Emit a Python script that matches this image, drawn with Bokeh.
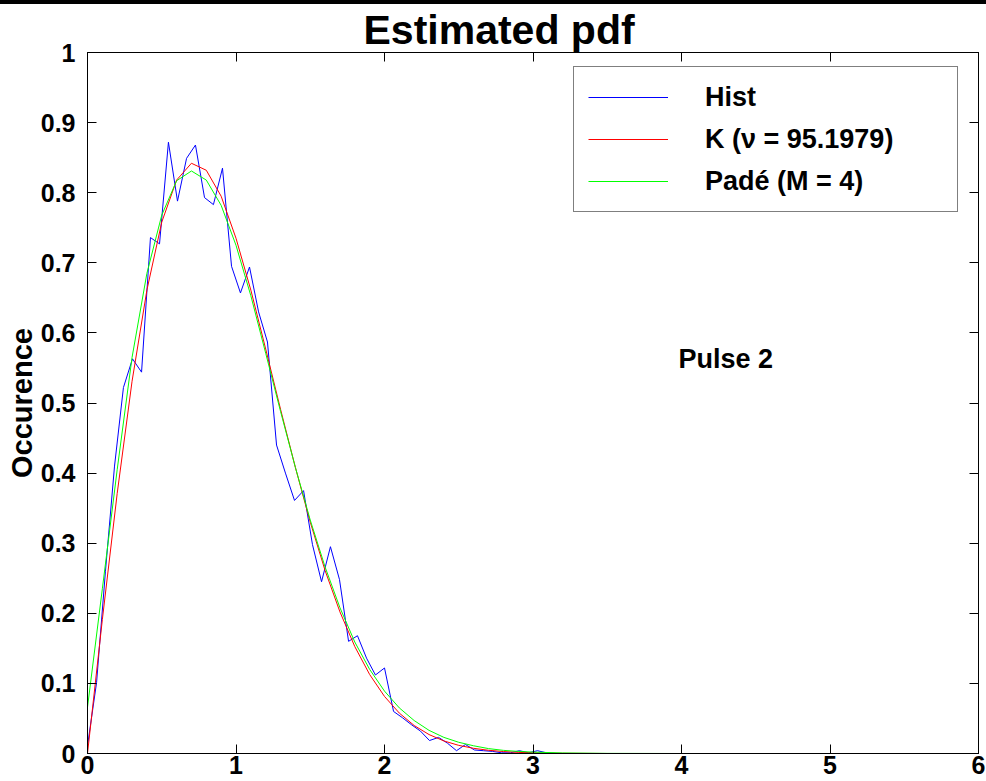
from bokeh.plotting import figure
from bokeh.models import LinearAxis, FixedTicker, Legend, LegendItem, Label, Range1d, Div
from bokeh.layouts import column
from bokeh.embed import file_html
from bokeh.resources import INLINE

# ---------------- data ----------------
hist_x = [0.000, 0.061, 0.121, 0.182, 0.242, 0.303, 0.364, 0.424, 0.485, 0.545,
          0.606, 0.667, 0.727, 0.788, 0.848, 0.909, 0.970, 1.030, 1.091, 1.152,
          1.212, 1.273, 1.333, 1.394, 1.455, 1.515, 1.576, 1.636, 1.697, 1.758,
          1.818, 1.879, 1.939, 2.000, 2.061, 2.121, 2.182, 2.242, 2.303, 2.364,
          2.424, 2.485, 2.545, 2.606, 2.667, 2.727, 2.788, 2.848, 2.909, 2.970,
          3.030, 3.091, 3.152]
hist_y = [0.011, 0.101, 0.260, 0.410, 0.522, 0.563, 0.544, 0.736, 0.727, 0.872,
          0.788, 0.849, 0.868, 0.793, 0.783, 0.835, 0.695, 0.657, 0.694, 0.630,
          0.587, 0.440, 0.400, 0.361, 0.375, 0.298, 0.245, 0.295, 0.248, 0.160,
          0.168, 0.136, 0.112, 0.122, 0.060, 0.051, 0.041, 0.032, 0.0185, 0.023,
          0.0147, 0.004, 0.0128, 0.005, 0.004, 0.003, 0.001, 0.001, 0.004, 0.001,
          0.004, 0.001, 0.000]

fit_x = [0.0, 0.1, 0.2, 0.3, 0.4, 0.5, 0.6, 0.7, 0.8, 0.9,
         1.0, 1.1, 1.2, 1.3, 1.4, 1.5, 1.6, 1.7, 1.8, 1.9,
         2.0, 2.1, 2.2, 2.3, 2.4, 2.5, 2.6, 2.7, 2.8, 2.9,
         3.0, 3.2, 3.5, 4.0, 5.0, 6.0]
k_y = [0.000, 0.191, 0.371, 0.531, 0.661, 0.758, 0.818, 0.842, 0.832, 0.795,
       0.735, 0.661, 0.577, 0.491, 0.408, 0.330, 0.261, 0.202, 0.1525, 0.1127,
       0.0814, 0.0576, 0.0399, 0.0270, 0.0179, 0.0116, 0.0074, 0.0046, 0.0028, 0.0016,
       0.0009, 0.0003, 0.0000, 0.0, 0.0, 0.0]
pade_y = [0.066, 0.235, 0.405, 0.565, 0.685, 0.768, 0.817, 0.831, 0.818, 0.782,
          0.725, 0.653, 0.571, 0.488, 0.408, 0.333, 0.266, 0.208, 0.159, 0.120,
          0.089, 0.065, 0.047, 0.033, 0.023, 0.016, 0.011, 0.007, 0.0045, 0.003,
          0.002, 0.0008, 0.0002, 0.0, 0.0, 0.0]

x_ticks = [0, 1, 2, 3, 4, 5, 6]
x_tick_labels = ["0", "1", "2", "3", "4", "5", "6"]
y_ticks = [0, 0.1, 0.2, 0.3, 0.4, 0.5, 0.6, 0.7, 0.8, 0.9, 1]
y_tick_labels = ["0", "0.1", "0.2", "0.3", "0.4", "0.5", "0.6", "0.7", "0.8", "0.9", "1"]

series_labels = ["Hist", "K (\u03bd = 95.1979)", "Pad\u00e9 (M = 4)"]
title_text = "Estimated pdf"
y_label = "Occurence"
note_text = "Pulse 2"

FONT = "Liberation Sans"

# ---------------- figure ----------------
p = figure(width=986, height=777,
           x_range=Range1d(0, 6), y_range=Range1d(0, 1),
           output_backend="svg", toolbar_location=None,
           min_border_left=87, min_border_right=8,
           min_border_top=46, min_border_bottom=28, margin=0)

p.title.text = title_text
p.title.align = "left"
p.title.offset = 276
p.title.text_font = FONT
p.title.text_font_size = "41px"
p.title.text_font_style = "bold"
p.title.text_color = "black"
p.title.standoff = 0

p.xgrid.visible = False
p.ygrid.visible = False
p.outline_line_color = "black"
p.outline_line_width = 1
p.background_fill_color = "white"
p.border_fill_color = "white"


def style_axis(ax, ticks, labels, show_labels=True, size="25px"):
    ax.ticker = FixedTicker(ticks=ticks)
    ax.major_tick_in = 9
    ax.major_tick_out = 0
    ax.minor_tick_in = 0
    ax.minor_tick_out = 0
    ax.axis_line_color = "black"
    ax.major_tick_line_color = "black"
    if show_labels:
        ax.major_label_overrides = dict(zip(ticks, labels))
        ax.major_label_text_font = FONT
        ax.major_label_text_font_style = "bold"
        ax.major_label_text_color = "black"
        ax.major_label_text_font_size = size
    else:
        ax.major_label_text_color = None
        ax.major_label_standoff = 0


xb = p.xaxis[0]
style_axis(xb, x_ticks, x_tick_labels, size="25px")
xb.major_label_standoff = 2

yl = p.yaxis[0]
style_axis(yl, y_ticks, y_tick_labels, size="25px")
yl.major_label_standoff = 12
yl.axis_label = y_label
yl.axis_label_text_font = FONT
yl.axis_label_text_font_size = "29px"
yl.axis_label_text_font_style = "bold"
yl.axis_label_text_color = "black"
yl.axis_label_standoff = 0

xt = LinearAxis()
style_axis(xt, x_ticks, x_tick_labels, show_labels=False)
p.add_layout(xt, "above")

yr = LinearAxis()
style_axis(yr, y_ticks, y_tick_labels, show_labels=False)
p.add_layout(yr, "right")

# ---------------- series ----------------
r_hist = p.line(hist_x, hist_y, line_color="#0000ff", line_width=1)
r_k = p.line(fit_x, k_y, line_color="#ff0000", line_width=1)
r_pade = p.line(fit_x, pade_y, line_color="#00ff00", line_width=1)

legend = Legend(items=[LegendItem(label=series_labels[0], renderers=[r_hist]),
                       LegendItem(label=series_labels[1], renderers=[r_k]),
                       LegendItem(label=series_labels[2], renderers=[r_pade])],
                location=(486, 541), margin=0,
                padding=14, spacing=10,
                glyph_width=80, glyph_height=32,
                label_height=32, label_width=238, label_standoff=37,
                label_text_font=FONT, label_text_font_size="27px",
                label_text_font_style="bold", label_text_color="black",
                border_line_color="black", border_line_width=1,
                background_fill_color="white", background_fill_alpha=1.0)
p.add_layout(legend)

p.add_layout(Label(x=3.98, y=0.563, text=note_text,
                   text_font=FONT, text_font_size="27px", text_font_style="bold",
                   text_color="black", text_baseline="alphabetic", text_align="left"))

top_bar = Div(text="", width=986, height=4, margin=0,
              styles={"background-color": "black"})

layout = column(top_bar, p, spacing=0, margin=0)

open("out.html", "w").write(file_html(layout, INLINE))
